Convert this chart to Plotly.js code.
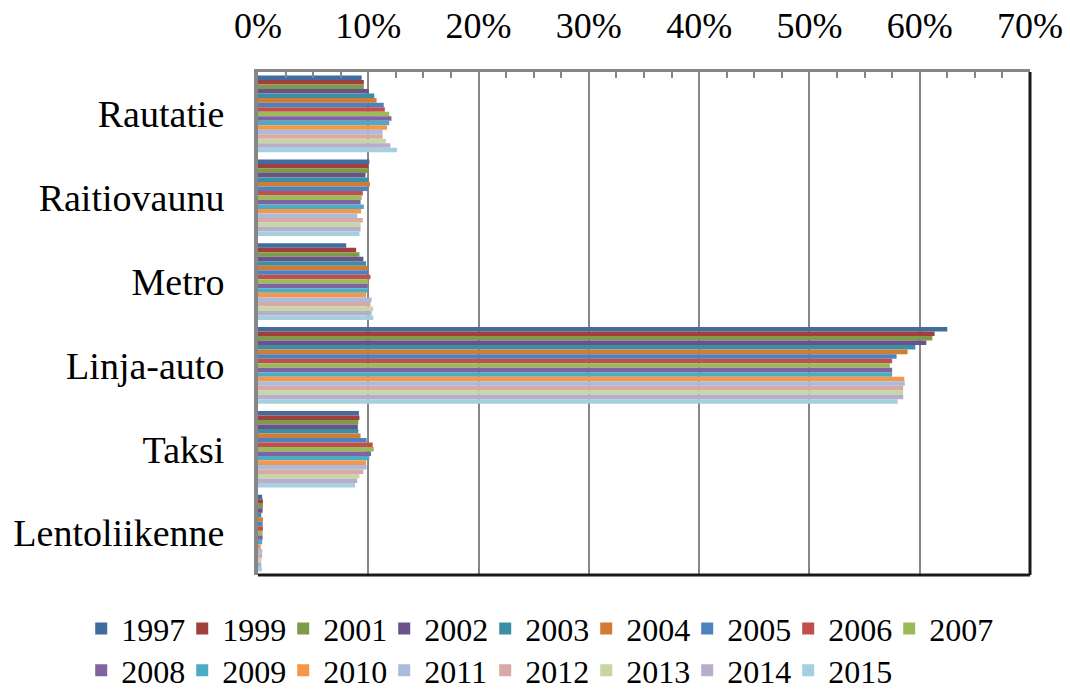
<!DOCTYPE html>
<html>
<head>
<meta charset="utf-8">
<script src="https://cdn.plot.ly/plotly-3.0.1.min.js"></script>
<style>html,body{margin:0;padding:0;background:#fff;}#chart{width:1070px;height:695px;}</style>
</head>
<body>
<div id="chart"></div>
<script>
const categories = ["Rautatie", "Raitiovaunu", "Metro", "Linja-auto", "Taksi", "Lentoliikenne"];
const years = ["1997","1999","2001","2002","2003","2004","2005","2006","2007","2008","2009","2010","2011","2012","2013","2014","2015"];
const colors = ["#416C9E","#A0403D","#7F9A48","#6A528A","#3A8FA5","#D07C35","#4F81BD","#C0504D","#9BBB59","#8064A2","#4BACC6","#F79646","#A9BCDB","#DAA8A7","#C6D6A5","#B8ADCB","#A5D0DD"];

// values in percent, per year: [Rautatie, Raitiovaunu, Metro, Linja-auto, Taksi, Lentoliikenne]
const v1997 = [9.4, 10.1, 8.0, 62.5, 9.15, 0.38];
const v1999 = [9.6, 10.0, 8.9, 61.35, 9.2, 0.45];
const v2001 = [9.6, 10.0, 9.2, 61.15, 9.1, 0.45];
const v2002 = [10.05, 9.75, 9.55, 60.6, 9.05, 0.42];
const v2003 = [10.55, 10.0, 9.8, 59.6, 9.1, 0.3];
const v2004 = [10.75, 10.15, 9.9, 58.9, 9.3, 0.45];
const v2005 = [11.4, 10.0, 10.0, 57.9, 9.85, 0.42];
const v2006 = [11.5, 9.5, 10.2, 57.5, 10.4, 0.45];
const v2007 = [11.9, 9.4, 10.0, 57.3, 10.5, 0.42];
const v2008 = [12.1, 9.3, 9.9, 57.5, 10.25, 0.42];
const v2009 = [11.9, 9.6, 10.0, 57.5, 10.1, 0.38];
const v2010 = [11.7, 9.35, 9.8, 58.6, 9.8, 0.25];
const v2011 = [11.3, 9.0, 10.3, 58.65, 9.85, 0.38];
const v2012 = [11.3, 9.5, 10.2, 58.5, 9.55, 0.38];
const v2013 = [11.6, 9.3, 10.45, 58.5, 9.2, 0.3];
const v2014 = [12.0, 9.3, 10.3, 58.5, 9.0, 0.3];
const v2015 = [12.6, 9.2, 10.45, 58.0, 8.8, 0.35];
const series = [v1997,v1999,v2001,v2002,v2003,v2004,v2005,v2006,v2007,v2008,v2009,v2010,v2011,v2012,v2013,v2014,v2015];

const traces = years.map((y, i) => ({
  type: "bar",
  orientation: "h",
  name: y,
  y: categories,
  x: series[i],
  marker: {color: colors[i]},
  legend: i < 9 ? "legend" : "legend2",
  hoverinfo: "name+x"
}));
// invisible spacer entries so the last legend label of each row is not clipped
["legend", "legend2"].forEach(lg => traces.push({
  type: "scatter", mode: "markers", name: " ", x: [null], y: [null],
  marker: {color: "rgba(0,0,0,0)", size: 1}, legend: lg, hoverinfo: "skip", showlegend: true
}));

const font = "Liberation Serif";
const legendBase = {
  orientation: "h", xref: "paper", x: -0.229, xanchor: "left",
  yref: "paper", yanchor: "top",
  font: {family: font, size: 32, color: "#000"},
  traceorder: "normal", itemwidth: 30, tracegroupgap: 0,
  entrywidth: 56, entrywidthmode: "pixels", bgcolor: "rgba(0,0,0,0)"
};
const layout = {
  width: 1070, height: 695,
  margin: {l: 258, r: 40, t: 72, b: 120, autoexpand: false},
  paper_bgcolor: "#fff", plot_bgcolor: "#fff",
  barmode: "group", bargap: 0.085, bargroupgap: 0,
  font: {family: font, color: "#000", size: 36},
  xaxis: {
    side: "top", range: [0, 70], dtick: 10, ticksuffix: "%",
    showgrid: true, gridcolor: "#868686", gridwidth: 2,
    showline: true, linecolor: "#868686", linewidth: 3,
    ticks: "", ticklabelstandoff: 17,
    tickfont: {family: font, size: 36, color: "#000"},
    minor: {dtick: 2.5, ticks: "inside", ticklen: 6, tickwidth: 2, tickcolor: "#868686", showgrid: false},
    zeroline: false, fixedrange: true
  },
  yaxis: {
    type: "category", autorange: "reversed",
    showgrid: false, showline: true, linecolor: "#868686", linewidth: 4,
    ticks: "", ticklabelstandoff: 22,
    tickfont: {family: font, size: 38, color: "#000"},
    fixedrange: true
  },
  showlegend: true,
  legend: Object.assign({}, legendBase, {y: -0.052}),
  legend2: Object.assign({}, legendBase, {y: -0.135}),
  shapes: [
    {type: "line", xref: "paper", yref: "paper", x0: 0, x1: 1, y0: 0, y1: 0, line: {color: "#1a1a1a", width: 3}},
    {type: "line", xref: "paper", yref: "paper", x0: 1, x1: 1, y0: 0, y1: 1, line: {color: "#1a1a1a", width: 3}}
  ]
};

Plotly.newPlot("chart", traces, layout, {displayModeBar: false, staticPlot: true});
</script>
</body>
</html>
